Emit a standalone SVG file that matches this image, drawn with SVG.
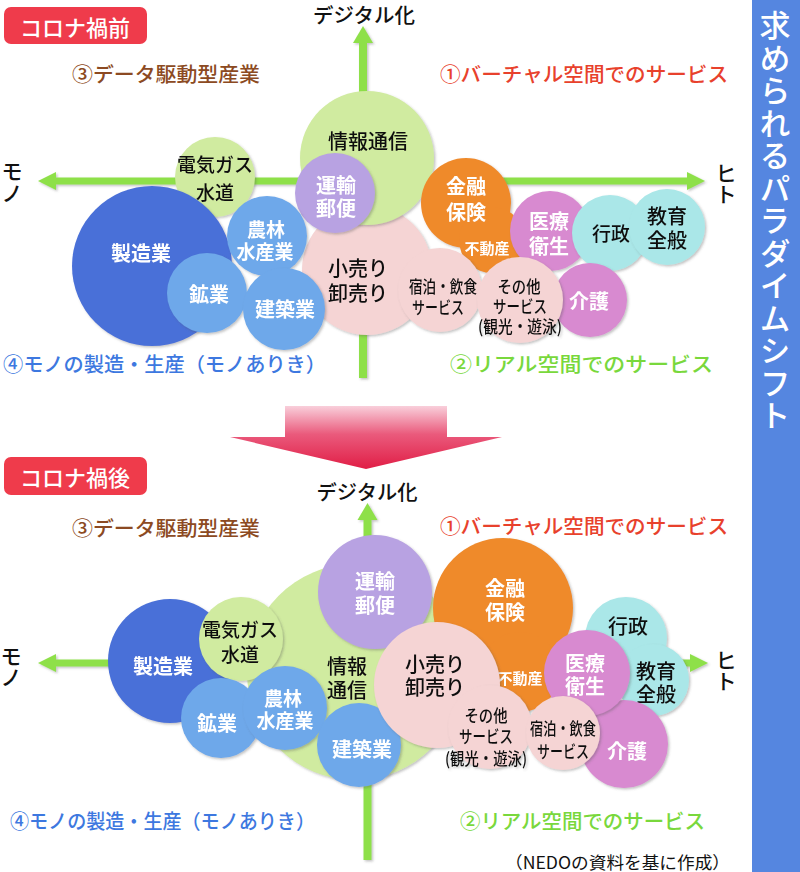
<svg xmlns="http://www.w3.org/2000/svg" width="800" height="872" viewBox="0 0 800 872">
<defs>
<filter id="sh" x="-10%" y="-10%" width="130%" height="130%">
<feDropShadow dx="1.5" dy="1.5" stdDeviation="1" flood-color="#555" flood-opacity="0.35"/>
</filter>
<linearGradient id="redg" x1="0" y1="405" x2="0" y2="470" gradientUnits="userSpaceOnUse">
<stop offset="0" stop-color="#f9d3de"/>
<stop offset="0.45" stop-color="#ea5a7c"/>
<stop offset="1" stop-color="#e01c44"/>
</linearGradient>
</defs>
<style>
text{font-family:"Noto Sans CJK JP","Noto Sans",sans-serif;}
.c{text-anchor:middle;dominant-baseline:central;font-size:20px;}
.k{fill:#111;font-weight:500;}
.w{fill:#fff;font-weight:bold;}
.ax{fill:#8ee04a;}
.lg{fill:#d0eba0;}
.pu{fill:#b8a2e2;}
.bl{fill:#4a70d8;}
.lb{fill:#6ea8ea;}
.pk{fill:#f5d4d4;}
.or{fill:#ef8a2c;}
.mg{fill:#d88ad0;}
.cy{fill:#aae7e8;}
.lab{font-size:20px;dominant-baseline:central;font-weight:500;}
.v{text-anchor:middle;dominant-baseline:central;font-size:21px;fill:#111;font-weight:500;}
</style>

<rect width="800" height="872" fill="#fff"/>

<!-- right banner -->
<g id="banner">
<rect x="752" y="0" width="48" height="872" fill="#5586e0"/>
<text x="775" y="10" style="writing-mode:vertical-rl;font-size:31px;letter-spacing:1.5px;fill:#fff;font-weight:500;">求められるパラダイムシフト</text>
</g>

<!-- ===== TOP: before ===== -->
<g id="badge-before">
<rect x="4" y="7" width="143" height="37" rx="7" fill="#ef3b4b"/>
<text x="75" y="26" class="c" fill="#fff" style="font-size:22px;font-weight:500" textLength="110" lengthAdjust="spacingAndGlyphs">コロナ禍前</text>
</g>

<g id="axes-top" filter="url(#sh)">
<rect x="55" y="177.5" width="634" height="7" class="ax"/>
<polygon points="38,181 56,172 56,190" class="ax"/>
<polygon points="705,181 687,172 687,190" class="ax"/>
<rect x="359" y="41" width="8" height="337" class="ax"/>
<polygon points="363,26 353,43 373,43" class="ax"/>
</g>
<text x="364" y="14" class="c k" textLength="102" lengthAdjust="spacingAndGlyphs">デジタル化</text>
<text class="v"><tspan x="12" y="170">モ</tspan><tspan x="12" y="192">ノ</tspan></text>
<text class="v"><tspan x="726" y="172">ヒ</tspan><tspan x="726" y="193">ト</tspan></text>

<text x="72" y="73" class="lab" fill="#8c4a22" textLength="188" lengthAdjust="spacingAndGlyphs">③データ駆動型産業</text>
<text x="440" y="73" class="lab" fill="#e8412c" textLength="288" lengthAdjust="spacingAndGlyphs">①バーチャル空間でのサービス</text>
<text x="3" y="363" class="lab" fill="#3d78e0" textLength="323" lengthAdjust="spacingAndGlyphs">④モノの製造・生産（モノありき）</text>
<text x="450" y="363" class="lab" fill="#79d83c" textLength="263" lengthAdjust="spacingAndGlyphs">②リアル空間でのサービス</text>

<g id="t-retail" filter="url(#sh)"><circle cx="367" cy="270" r="65" class="pk"/>
<text class="c k"><tspan x="358" y="267">小売り</tspan><tspan x="358" y="292">卸売り</tspan></text></g>
<g id="t-ict" filter="url(#sh)"><circle cx="367" cy="158" r="67" class="lg"/>
<text x="368" y="140" class="c k">情報通信</text></g>
<g id="t-transport" filter="url(#sh)"><circle cx="335" cy="193" r="40" class="pu"/>
<text class="c w"><tspan x="336" y="184">運輸</tspan><tspan x="336" y="207">郵便</tspan></text></g>
<g id="t-utility" filter="url(#sh)"><circle cx="215" cy="177" r="40" class="lg"/>
<text class="c k" style="font-size:19px"><tspan x="215" y="163">電気ガス</tspan><tspan x="215" y="191">水道</tspan></text></g>
<g id="t-manufacturing" filter="url(#sh)"><circle cx="152" cy="266" r="80" class="bl"/>
<text x="141" y="252" class="c w">製造業</text></g>
<g id="t-agri" filter="url(#sh)"><circle cx="267" cy="236" r="40" class="lb"/>
<text class="c w" style="font-size:19px"><tspan x="266" y="228">農林</tspan><tspan x="265" y="250">水産業</tspan></text></g>
<g id="t-mining" filter="url(#sh)"><circle cx="207" cy="293" r="40" class="lb"/>
<text x="209" y="293" class="c w">鉱業</text></g>
<g id="t-construction" filter="url(#sh)"><circle cx="284" cy="309" r="41" class="lb"/>
<text x="285" y="308" class="c w">建築業</text></g>

<g id="t-finance" filter="url(#sh)"><circle cx="466" cy="203" r="45" class="or"/><circle cx="492" cy="240" r="33" class="or"/>
<text class="c w"><tspan x="466" y="185">金融</tspan><tspan x="466" y="211">保険</tspan></text>
<text x="487" y="247" class="c w" style="font-size:15px">不動産</text></g>
<g id="t-medical" filter="url(#sh)"><circle cx="550" cy="231" r="40" class="mg"/>
<text class="c w"><tspan x="549" y="220">医療</tspan><tspan x="549" y="245">衛生</tspan></text></g>
<g id="t-admin" filter="url(#sh)"><circle cx="610" cy="233" r="38" class="cy"/>
<text x="611" y="232" class="c k" style="font-size:19px">行政</text></g>
<g id="t-education" filter="url(#sh)"><circle cx="667" cy="227" r="38" class="cy"/>
<text class="c k"><tspan x="667" y="215">教育</tspan><tspan x="667" y="239">全般</tspan></text></g>
<g id="t-care" filter="url(#sh)"><circle cx="590" cy="300" r="37" class="mg"/>
<text x="589" y="300" class="c w">介護</text></g>
<g id="t-lodging" filter="url(#sh)"><circle cx="440" cy="290" r="42" class="pk"/>
<text x="443" y="285" class="c k" style="font-size:17px" textLength="68" lengthAdjust="spacingAndGlyphs">宿泊・飲食</text>
<text x="438" y="306" class="c k" style="font-size:17px" textLength="52" lengthAdjust="spacingAndGlyphs">サービス</text></g>
<g id="t-other" filter="url(#sh)"><circle cx="520" cy="300" r="43" class="pk"/>
<text x="519" y="285" class="c k" style="font-size:17px" textLength="43" lengthAdjust="spacingAndGlyphs">その他</text>
<text x="520" y="305" class="c k" style="font-size:17px" textLength="54" lengthAdjust="spacingAndGlyphs">サービス</text>
<text x="520" y="325" class="c k" style="font-size:17px" textLength="84" lengthAdjust="spacingAndGlyphs">(観光・遊泳)</text></g>

<!-- red transition arrow -->
<g id="transition-arrow">
<polygon points="285,406 447,406 447,437 502,437 366,469 230,437 285,437" fill="url(#redg)"/>
</g>

<!-- ===== BOTTOM: after ===== -->
<g id="badge-after">
<rect x="4" y="457" width="143" height="38" rx="7" fill="#ef3b4b"/>
<text x="75" y="476" class="c" fill="#fff" style="font-size:22px;font-weight:500" textLength="110" lengthAdjust="spacingAndGlyphs">コロナ禍後</text>
</g>

<g id="axes-bottom" filter="url(#sh)">
<rect x="55" y="659.5" width="636" height="7" class="ax"/>
<polygon points="38,663 56,654 56,672" class="ax"/>
<polygon points="708,663 690,654 690,672" class="ax"/>
<rect x="363.5" y="518" width="8" height="342" class="ax"/>
<polygon points="367.5,503 357.5,520 377.5,520" class="ax"/>
</g>
<text x="367" y="491" class="c k" textLength="101" lengthAdjust="spacingAndGlyphs">デジタル化</text>
<text class="v"><tspan x="11" y="655">モ</tspan><tspan x="11" y="676">ノ</tspan></text>
<text class="v"><tspan x="726" y="659">ヒ</tspan><tspan x="726" y="680">ト</tspan></text>

<text x="72" y="527" class="lab" fill="#8c4a22" textLength="188" lengthAdjust="spacingAndGlyphs">③データ駆動型産業</text>
<text x="440" y="525" class="lab" fill="#e8412c" textLength="288" lengthAdjust="spacingAndGlyphs">①バーチャル空間でのサービス</text>
<text x="10" y="820" class="lab" fill="#3d78e0" textLength="305" lengthAdjust="spacingAndGlyphs">④モノの製造・生産（モノありき）</text>
<text x="460" y="820" class="lab" fill="#79d83c" textLength="245" lengthAdjust="spacingAndGlyphs">②リアル空間でのサービス</text>
<text x="505" y="861" class="lab" fill="#111" style="font-size:17px;font-weight:normal" textLength="225" lengthAdjust="spacingAndGlyphs">（NEDOの資料を基に作成）</text>

<g id="b-ict" filter="url(#sh)"><circle cx="355" cy="672" r="108" class="lg"/>
<text class="c k"><tspan x="347" y="665">情報</tspan><tspan x="347" y="689">通信</tspan></text></g>
<g id="b-manufacturing" filter="url(#sh)"><circle cx="170" cy="661" r="62" class="bl"/>
<text x="163" y="665" class="c w">製造業</text></g>
<g id="b-utility" filter="url(#sh)"><circle cx="241" cy="639" r="42" class="lg"/>
<text class="c k" style="font-size:19px"><tspan x="240" y="628">電気ガス</tspan><tspan x="240" y="653">水道</tspan></text></g>
<g id="b-mining" filter="url(#sh)"><circle cx="221" cy="718" r="40" class="lb"/>
<text x="217" y="722" class="c w">鉱業</text></g>
<g id="b-agri" filter="url(#sh)"><circle cx="285" cy="708" r="42" class="lb"/>
<text class="c w" style="font-size:19px"><tspan x="283" y="697">農林</tspan><tspan x="285" y="719">水産業</tspan></text></g>
<g id="b-construction" filter="url(#sh)"><circle cx="359" cy="745" r="42" class="lb"/>
<text x="362" y="748" class="c w">建築業</text></g>
<g id="b-transport" filter="url(#sh)"><circle cx="375" cy="592" r="57" class="pu"/>
<text class="c w"><tspan x="375" y="580">運輸</tspan><tspan x="375" y="604">郵便</tspan></text></g>
<g id="b-finance" filter="url(#sh)"><circle cx="503" cy="608" r="70" class="or"/><circle cx="520" cy="672" r="40" class="or"/>
<text class="c w"><tspan x="505" y="587">金融</tspan><tspan x="505" y="611">保険</tspan></text>
<text x="520" y="677" class="c w" style="font-size:15px">不動産</text></g>
<g id="b-admin" filter="url(#sh)"><circle cx="626" cy="638" r="41" class="cy"/>
<text x="628" y="625" class="c k">行政</text></g>
<g id="b-education" filter="url(#sh)"><circle cx="653" cy="680" r="36" class="cy"/>
<text class="c k"><tspan x="656" y="670">教育</tspan><tspan x="656" y="693">全般</tspan></text></g>
<g id="b-care" filter="url(#sh)"><circle cx="624" cy="744" r="44" class="mg"/>
<text x="627" y="750" class="c w">介護</text></g>
<g id="b-medical" filter="url(#sh)"><circle cx="587" cy="673" r="43" class="mg"/>
<text class="c w"><tspan x="585" y="662">医療</tspan><tspan x="585" y="685">衛生</tspan></text></g>
<g id="b-retail" filter="url(#sh)"><circle cx="437" cy="685" r="63" class="pk"/>
<text class="c k"><tspan x="435" y="663">小売り</tspan><tspan x="435" y="686">卸売り</tspan></text></g>
<g id="b-other" filter="url(#sh)"><circle cx="490" cy="727" r="42" class="pk"/>
<text x="486" y="714" class="c k" style="font-size:17px" textLength="43" lengthAdjust="spacingAndGlyphs">その他</text>
<text x="486" y="735" class="c k" style="font-size:17px" textLength="54" lengthAdjust="spacingAndGlyphs">サービス</text>
<text x="486" y="757" class="c k" style="font-size:17px" textLength="82" lengthAdjust="spacingAndGlyphs">(観光・遊泳)</text></g>
<g id="b-lodging" filter="url(#sh)"><circle cx="563" cy="733" r="37" class="pk"/>
<text x="563" y="727" class="c k" style="font-size:17px" textLength="66" lengthAdjust="spacingAndGlyphs">宿泊・飲食</text>
<text x="563" y="750" class="c k" style="font-size:17px" textLength="52" lengthAdjust="spacingAndGlyphs">サービス</text></g>
</svg>
